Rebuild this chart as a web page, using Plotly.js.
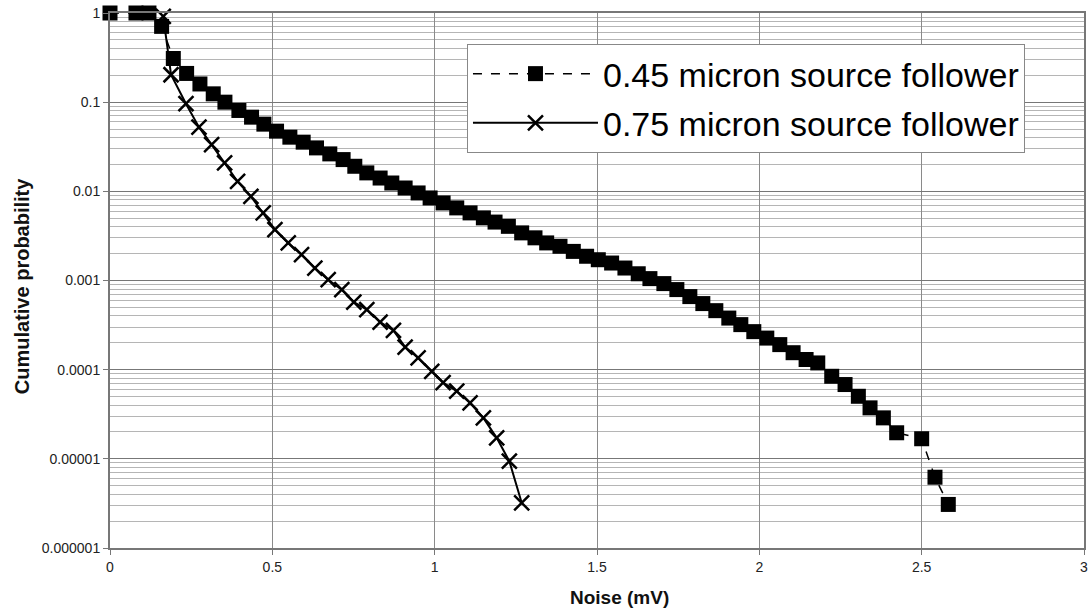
<!DOCTYPE html>
<html>
<head>
<meta charset="utf-8">
<script src="https://cdn.plot.ly/plotly-3.0.1.min.js"></script>
<style>html,body{margin:0;padding:0;background:#fff;}#chart{width:1090px;height:616px;}</style>
</head>
<body>
<div id="chart"></div>
<script>
// 0.45 micron source follower (squares, dashed)
const sfA_name = "0.45 micron source follower";
const sfA_x = [0, 0.08, 0.12, 0.159, 0.195, 0.236, 0.277, 0.318, 0.354, 0.397, 0.436, 0.474, 0.513, 0.554, 0.595, 0.636, 0.677, 0.718, 0.754, 0.791, 0.832, 0.868, 0.909, 0.949, 0.986, 1.026, 1.068, 1.109, 1.150, 1.186, 1.227, 1.268, 1.309, 1.345, 1.386, 1.427, 1.468, 1.504, 1.545, 1.586, 1.627, 1.663, 1.706, 1.746, 1.786, 1.826, 1.866, 1.906, 1.943, 1.983, 2.023, 2.063, 2.104, 2.144, 2.180, 2.223, 2.264, 2.305, 2.341, 2.382, 2.423, 2.500, 2.541, 2.582];
const sfA_y = [1, 1, 1, 0.708, 0.309, 0.210, 0.160, 0.124, 0.100, 0.0807, 0.0679, 0.0567, 0.0473, 0.0405, 0.0356, 0.0307, 0.0263, 0.0227, 0.0191, 0.0161, 0.0141, 0.0124, 0.0109, 0.00959, 0.00843, 0.00741, 0.00652, 0.00573, 0.00504, 0.00452, 0.00405, 0.00342, 0.00301, 0.00264, 0.00242, 0.00212, 0.00187, 0.00171, 0.00157, 0.00138, 0.00119, 0.00105, 0.000923, 0.000791, 0.000660, 0.000551, 0.000459, 0.000379, 0.000320, 0.000267, 0.000226, 0.000191, 0.000155, 0.000130, 0.000119, 0.0000843, 0.0000681, 0.0000503, 0.0000373, 0.0000288, 0.0000196, 0.0000168, 0.00000622, 0.00000308];

// 0.75 micron source follower (x markers, solid)
const sfB_name = "0.75 micron source follower";
const sfB_x = [0.164, 0.188, 0.234, 0.274, 0.313, 0.353, 0.393, 0.434, 0.472, 0.508, 0.549, 0.590, 0.631, 0.672, 0.714, 0.751, 0.791, 0.832, 0.873, 0.909, 0.949, 0.991, 1.026, 1.068, 1.109, 1.150, 1.191, 1.230, 1.268];
const sfB_y = [0.916, 0.203, 0.0962, 0.0525, 0.0334, 0.0208, 0.0129, 0.00879, 0.00573, 0.00372, 0.00264, 0.00195, 0.00138, 0.00102, 0.000791, 0.000573, 0.000472, 0.000342, 0.000275, 0.000179, 0.000136, 0.0000959, 0.0000717, 0.0000573, 0.0000425, 0.0000288, 0.0000172, 0.0000094, 0.00000321];

// axis ticks
const xTickVals = [0, 0.5, 1, 1.5, 2, 2.5, 3];
const xTickText = ["0", "0.5", "1", "1.5", "2", "2.5", "3"];
const yTickVals = [1, 0.1, 0.01, 0.001, 0.0001, 0.00001, 0.000001];
const yTickText = ["1", "0.1", "0.01", "0.001", "0.0001", "0.00001", "0.000001"];
const xTitle = "Noise (mV)";
const yTitle = "Cumulative probability";

const FONT = "Liberation Sans, Arial, Helvetica, sans-serif";

const traces = [
  {
    x: sfA_x, y: sfA_y, name: sfA_name, type: "scatter", mode: "lines+markers",
    legendgroup: "a", cliponaxis: false,
    line: {color: "#000", width: 1.5, dash: "dash"},
    marker: {symbol: "square", size: 15, color: "#000"}
  },
  {
    x: sfB_x, y: sfB_y, name: sfB_name, type: "scatter", mode: "lines+markers",
    legendgroup: "b", cliponaxis: false,
    line: {color: "#000", width: 2},
    marker: {symbol: "x-thin-open", size: 15, color: "#000", line: {color: "#000", width: 2.5}}
  }
];

const layout = {
  width: 1090, height: 616,
  margin: {l: 110, r: 6, t: 13, b: 68},
  paper_bgcolor: "#fff", plot_bgcolor: "#fff",
  font: {family: FONT, color: "#222", size: 12},
  showlegend: true,
  legend: {
    x: 0.3665, y: 0.942, xanchor: "left", yanchor: "top",
    bgcolor: "#fff", bordercolor: "#888", borderwidth: 1,
    font: {family: FONT, size: 34, color: "#000"},
    tracegroupgap: 2, itemwidth: 125
  },
  xaxis: {
    range: [0, 3], tickvals: xTickVals, ticktext: xTickText,
    showgrid: true, gridcolor: "#8a8a8a", gridwidth: 1,
    showline: true, linecolor: "#777", linewidth: 2, mirror: true,
    ticks: "outside", ticklen: 5, tickcolor: "#777",
    zeroline: false,
    tickfont: {family: FONT, size: 14, color: "#222"}
  },
  yaxis: {
    type: "log", range: [-6, 0], tickvals: yTickVals, ticktext: yTickText,
    showgrid: true, gridcolor: "#777", gridwidth: 1,
    minor: {dtick: "D1", showgrid: true, gridcolor: "#b5b5b5", gridwidth: 1, ticks: ""},
    showline: true, linecolor: "#777", linewidth: 2, mirror: true,
    ticks: "outside", ticklen: 5, tickcolor: "#777",
    zeroline: false,
    tickfont: {family: FONT, size: 14, color: "#222"}
  },
  annotations: [
    {text: "<b>" + xTitle + "</b>", xref: "paper", yref: "paper", x: 0.523, y: -0.092,
     xanchor: "center", yanchor: "middle", showarrow: false,
     font: {family: FONT, size: 19, color: "#111"}},
    {text: "<b>" + yTitle + "</b>", xref: "paper", yref: "paper", x: -0.09, y: 0.49,
     xanchor: "center", yanchor: "middle", showarrow: false, textangle: -90,
     font: {family: FONT, size: 20, color: "#111"}}
  ]
};

Plotly.newPlot("chart", traces, layout, {displayModeBar: false, staticPlot: true});
</script>
</body>
</html>
